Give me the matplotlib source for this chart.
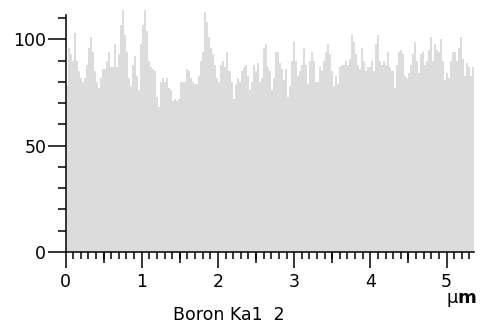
import numpy as np
import matplotlib.pyplot as plt
from matplotlib.ticker import MultipleLocator, FixedLocator, NullFormatter

# counts, left to right (about 0.026 um per bin)
counts = [78, 96, 93, 90, 103, 90, 85, 82, 80, 82, 88, 96, 101, 94, 85, 80, 77, 82, 86, 86,
          90, 94, 87, 87, 98, 87, 93, 107, 114, 102, 94, 82, 78, 88, 92, 83, 76, 98, 107, 114,
          104, 90, 87, 86, 85, 73, 68, 80, 82, 80, 82,
          77, 76, 71, 72, 71, 72, 80, 80, 80, 86, 85, 82, 80, 79, 79, 83, 90, 94, 113, 108,
          101, 96, 93, 88, 82, 80, 88, 90, 87, 94, 85, 80, 72, 79, 82, 80, 85, 87, 88, 83,
          76, 80, 88, 85, 89, 80, 82, 96, 98, 87, 85,
          76, 82, 94, 94, 89, 86, 81, 86, 73, 78, 90, 99, 90, 83, 85, 88, 96, 88, 79, 90,
          94, 90, 80, 80, 87, 85, 90, 94, 98, 93, 85, 78, 83, 79, 87, 88, 88, 90, 88, 91,
          102, 99, 93, 88, 86, 96, 90, 85, 87, 87, 90,
          85, 98, 102, 90, 88, 90, 88, 94, 87, 85, 77, 88, 94, 95, 93, 83, 82, 84, 88, 93,
          99, 90, 84, 93, 94, 88, 90, 95, 101, 90, 98, 95, 94, 100, 90, 81, 84, 82, 90, 94,
          94, 90, 96, 101, 91, 83, 89, 87, 83, 87]
x_max = 5.36
y_max = 111.5
half_ticks = [0.5, 1.5, 2.5, 3.5, 4.5]
title = "Boron Ka1  2"

edges = np.linspace(0, x_max, len(counts) + 1)

fig = plt.figure(figsize=(4.8, 3.24), dpi=100)
ax = fig.add_axes([65.5 / 480, 1 - 252 / 324, (474 - 65.5) / 480, (252 - 15) / 324])

# profile is allowed to poke above the top of the axis like in the original
ax.stairs(counts, edges, fill=True, color='#dcdcdc', linewidth=0, clip_on=False)

ax.set_xlim(0, x_max)
ax.set_ylim(0, y_max)
for s in ['top', 'right']:
    ax.spines[s].set_visible(False)
for s in ['left', 'bottom']:
    ax.spines[s].set_linewidth(1.1)
    ax.spines[s].set_zorder(3)

ax.xaxis.set_major_locator(MultipleLocator(1))
ax.xaxis.set_minor_locator(MultipleLocator(0.1))
ax.yaxis.set_major_locator(MultipleLocator(50))
ax.yaxis.set_minor_locator(MultipleLocator(10))

ax.tick_params(axis='x', which='major', length=11.5, width=1.1, pad=3.6, labelsize=12.5)
ax.tick_params(axis='x', which='minor', length=5, width=1.1)
ax.tick_params(axis='y', which='major', length=13, width=1.1, pad=0.8, labelsize=12.5)
ax.tick_params(axis='y', which='minor', length=5.8, width=1.1)

# medium ticks at the half microns
sec = ax.secondary_xaxis('bottom')
sec.xaxis.set_major_locator(FixedLocator(half_ticks))
sec.xaxis.set_major_formatter(NullFormatter())
sec.tick_params(length=8, width=1.1)
sec.spines['bottom'].set_visible(False)

fig.text(229 / 480, 1 - 315 / 324, title, ha='center', va='center', fontsize=12.5)
# unit: plain mu, bold m
fig.text(457.5 / 480, 1 - 298 / 324, '\u03bc', ha='right', va='center', fontsize=13)
fig.text(457.5 / 480, 1 - 298 / 324, 'm', ha='left', va='center', fontsize=13,
         fontweight='bold')
plt.savefig('out.png', dpi=100)
